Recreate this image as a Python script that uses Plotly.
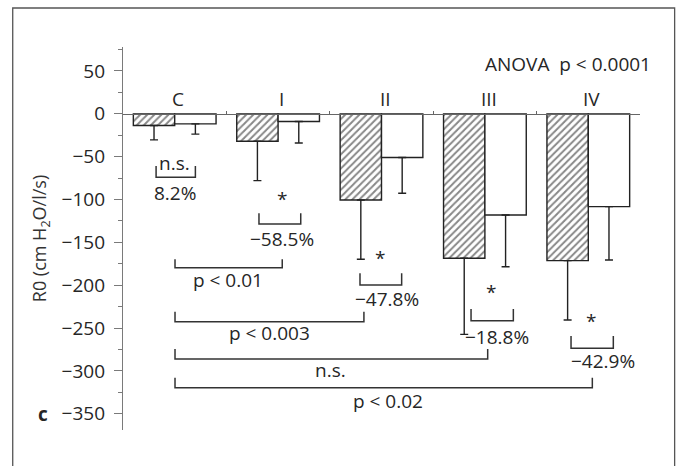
import plotly.graph_objects as go

# ---- data ----
categories = ["C", "I", "II", "III", "IV"]
cat_pos = [0, 1, 2, 3, 4]
hatched_vals = [-13.6, -32.0, -100.5, -168.6, -171.3]
hatched_err = [16.8, 46.0, 69.3, 88.8, 69.4]
white_vals = [-11.7, -9.0, -51.0, -118.0, -108.3]
white_err = [12.0, 25.0, 41.7, 60.4, 62.3]

y_ticks = [50, 0, -50, -100, -150, -200, -250, -300, -350]
y_range = [-369, 78]

# brackets: left x, right x, line y, tick-top y
br_x0 = [-0.18, 0.815, 0.003, 1.792, 0.003, 2.866, 0.003, 3.833, 0.003]
br_x1 = [0.20, 1.219, 1.04, 2.195, 1.83, 3.275, 3.027, 4.242, 4.039]
br_y = [-74, -128.5, -179.6, -199.8, -242.6, -241.5, -286.2, -273.7, -319.7]
br_top = [-61, -116, -169.8, -186, -231, -227.8, -274.5, -259.3, -308]

# bracket labels
lab_x = [0.0, 0.0, 1.04, 1.035, 0.515, 1.985, 2.05, 0.912, 3.06, 3.114, 1.51, 4.026, 4.145, 2.063]
lab_y = [-57, -92, -99.3, -146, -194, -168, -216.5, -255.5, -207.6, -260.2, -299, -241.8, -288.6, -335]
lab_text = ["n.s.", "8.2%", "*", "\u221258.5%", "p < 0.01", "*", "\u221247.8%", "p < 0.003",
            "*", "\u221218.8%", "n.s.", "*", "\u221242.9%", "p < 0.02"]

cat_label_y = 17.5
cat_label_shift = 0.035

FONT = "Open Sans"
FS = 19
TXT = "#262626"
AX = "#7a7a7a"

fig = go.Figure()

fig.add_trace(go.Bar(
    x=cat_pos, y=hatched_vals,
    marker=dict(color="white", line=dict(color="#222222", width=1.4),
                pattern=dict(shape="/", fgcolor="#111111", bgcolor="white", size=5, solidity=0.4)),
    error_y=dict(type="data", symmetric=False, array=[0]*5, arrayminus=hatched_err,
                 color="#222222", thickness=1.4, width=4),
    showlegend=False,
))
fig.add_trace(go.Bar(
    x=cat_pos, y=white_vals,
    marker=dict(color="white", line=dict(color="#222222", width=1.4)),
    error_y=dict(type="data", symmetric=False, array=[0]*5, arrayminus=white_err,
                 color="#222222", thickness=1.4, width=4),
    showlegend=False,
))

# brackets as line traces
bx, by = [], []
for x0, x1, yl, yt in zip(br_x0, br_x1, br_y, br_top):
    bx += [x0, x0, x1, x1, None]
    by += [yt, yl, yl, yt, None]
fig.add_trace(go.Scatter(x=bx, y=by, mode="lines", line=dict(color="#333333", width=1.5),
                         showlegend=False, hoverinfo="skip", cliponaxis=False))

annotations = []
for x, y, t in zip(lab_x, lab_y, lab_text):
    annotations.append(dict(x=x, y=y, xref="x", yref="y", text=t, showarrow=False,
                            font=dict(family=FONT, size=FS, color=TXT)))
for p, c in zip(cat_pos, categories):
    annotations.append(dict(x=p + cat_label_shift, y=cat_label_y, xref="x", yref="y", text=c,
                            showarrow=False, font=dict(family=FONT, size=FS, color=TXT)))
annotations.append(dict(x=1.0246, y=58.4, xref="paper", yref="y", xanchor="right",
                        text="ANOVA&nbsp;&nbsp;p < 0.0001", showarrow=False,
                        font=dict(family=FONT, size=FS, color=TXT)))
annotations.append(dict(x=-0.168, y=-350.5, xref="paper", yref="y", text="<b>c</b>",
                        showarrow=False, font=dict(family=FONT, size=FS, color=TXT)))

zero_pos = (0 - y_range[0]) / (y_range[1] - y_range[0])

fig.update_layout(
    width=681, height=466,
    margin=dict(l=123, r=41, t=47, b=36),
    paper_bgcolor="white", plot_bgcolor="white",
    barmode="group", bargap=0.2, bargroupgap=0,
    font=dict(family=FONT, size=18, color=TXT),
    annotations=annotations,
    xaxis=dict(range=[-0.5, 4.5], showline=False, showticklabels=False, showgrid=False,
               zeroline=False, ticks=""),
    xaxis2=dict(range=[-0.5, 4.5], overlaying="x", anchor="free", position=zero_pos,
                side="bottom", showline=True, linecolor="#666666", linewidth=1.3,
                ticks="inside", tickvals=[0.5, 1.5, 2.5, 3.5, 4.5], ticklen=3,
                tickcolor="#666666", tickwidth=1.2, showticklabels=False, showgrid=False,
                zeroline=False),
    yaxis=dict(range=y_range, tickvals=y_ticks, ticks="outside", ticklen=8, tickwidth=1.3,
               tickcolor=AX, showline=True, linecolor=AX, linewidth=1.3, showgrid=False,
               zeroline=False, ticklabelstandoff=5,
               tickfont=dict(family=FONT, size=FS, color=TXT),
               title=dict(text="R0 (cm H<sub>2</sub>O/l/s)", standoff=10,
                          font=dict(family=FONT, size=18, color="#333333")),
               minor=dict(tickvals=[75, 25, -25, -75, -125, -175, -225, -275, -325],
                          ticks="outside", ticklen=4, tickcolor=AX, tickwidth=1.2)),
    shapes=[dict(type="rect", xref="paper", yref="paper", x0=-0.2133, x1=1.067,
                 y0=-0.2, y1=1.1018, line=dict(color="#555555", width=1.3),
                 fillcolor="rgba(0,0,0,0)", layer="below")],
)

# empty trace on xaxis2 so the zero-line axis is drawn
fig.add_trace(go.Scatter(x=[None], y=[None], xaxis="x2", showlegend=False, hoverinfo="skip"))

fig.write_html("out.html")
